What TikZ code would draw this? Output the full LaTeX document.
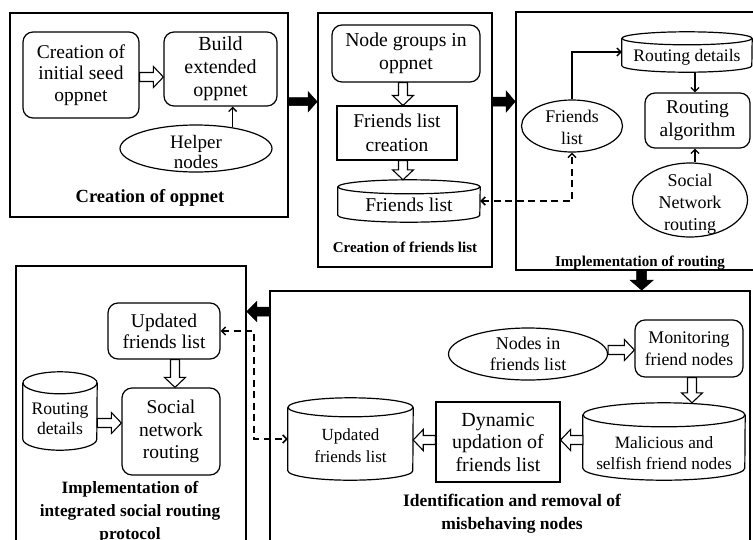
\documentclass[tikz,border=0pt]{standalone}
\usepackage{fontspec}
\setmainfont{Liberation Serif}
\usetikzlibrary{shapes.geometric,calc,arrows.meta}

% font size / baseline skip shortcut
\newcommand\fsz[2]{\fontsize{#1}{#2}\selectfont}

% outlined block arrow: #1 style, #2 tail, #3 tip,
% #4 shaft half width, #5 head half width, #6 head length
\newcommand\blockarrow[6]{%
  \coordinate (ba-s) at #2;
  \coordinate (ba-e) at #3;
  \coordinate (ba-h) at ($(ba-e)!#6!(ba-s)$);
  \draw[#1] ($(ba-s)!#4!90:(ba-e)$) -- ($(ba-h)!#4!-90:(ba-s)$)
    -- ($(ba-h)!#5!-90:(ba-s)$) -- (ba-e) -- ($(ba-h)!#5!90:(ba-s)$)
    -- ($(ba-h)!#4!90:(ba-s)$) -- ($(ba-s)!#4!-90:(ba-e)$) -- cycle;
}

% data store drawn as a cylinder: #1 name, #2 centre, #3 width, #4 height, #5 cap half height
\newcommand\dbstore[5]{%
  \node[cylbody, minimum width=#3, minimum height=#4] (#1) at #2 {};
  \draw[cyl] ([yshift=-#5]#1.north west) -- ([yshift=#5]#1.south west)
    arc[start angle=180, end angle=360, x radius=#3/2, y radius=#5]
    -- ([yshift=-#5]#1.north east);
  \draw[cyl] ([yshift=-#5]#1.north) ellipse[x radius=#3/2, y radius=#5];
}

\begin{document}
\begin{tikzpicture}[x=1pt, y=-1pt,
  pnl/.style={draw, line width=1.6pt, inner sep=0pt},
  rbx/.style={draw, rounded corners=10pt, line width=1.2pt, align=center, inner sep=0pt},
  sqbx/.style={draw, line width=1.1pt, align=center, inner sep=0pt},
  ovl/.style={ellipse, draw, line width=1.2pt, inner sep=0pt},
  cylbody/.style={inner sep=0pt},
  cyl/.style={line width=1.2pt},
  lbl/.style={align=center, inner sep=0pt},
  flow/.style={line width=1.3pt, -{Straight Barb[length=4pt,width=8pt]}},
  link/.style={line width=2.2pt, dash pattern=on 7pt off 4.5pt,
    {Straight Barb[length=4pt,width=8pt,line width=1.5pt]}-{Straight Barb[length=4pt,width=8pt,line width=1.5pt]}},
  hollow/.style={draw=black, fill=white, line width=1.1pt, line join=miter},
  heavy/.style={draw=black, fill=black, line width=0.5pt, line join=miter}]

\useasboundingbox (0,0) rectangle (753,539);
\fill[white] (0,0) rectangle (753,539);

% ---------- stage panels ----------
\node[pnl, minimum width=278pt, minimum height=204pt] (P1) at (149,115) {};
\node[pnl, minimum width=174pt, minimum height=254pt] (P2) at (405,140) {};
\node[pnl, minimum width=244pt, minimum height=258pt] (P3) at (638,141) {};
\node[pnl, minimum width=230pt, minimum height=294pt] (P4) at (131,413) {};
\node[pnl, minimum width=480pt, minimum height=269pt] (P5) at (510,425.5) {};

% ---------- creation of oppnet ----------
\node[rbx, minimum width=116pt, minimum height=86pt, font=\fsz{19.5}{21.5}] (seed) at (81,75) {Creation of\\initial seed\\oppnet};
\node[rbx, minimum width=113pt, minimum height=74pt, font=\fsz{20}{23}] (build) at (220.5,69) {Build\\extended\\oppnet};
\node[ovl, minimum width=152pt, minimum height=47pt] (helper) at (196,148.5) {};
\node[lbl, font=\fsz{19}{20.5}] (helper-t) at (196,152) {Helper\\nodes};
\node[lbl, font=\fsz{18.5}{22}\bfseries] (t1) at (150,198) {Creation of oppnet};
\blockarrow{hollow}{(seed.east |- 0,77)}{(build.west |- 0,77)}{4.5pt}{10.5pt}{10pt}
\draw[flow] (helper.30) -- (helper.30 |- build.south);

% ---------- creation of friends list ----------
\node[rbx, minimum width=148pt, minimum height=57pt, font=\fsz{19.7}{23}] (ng) at (406,53.5) {Node groups in\\oppnet};
\node[sqbx, minimum width=120pt, minimum height=54pt, font=\fsz{19.5}{24}] (flc) at (397,133) {Friends list\\creation};
\dbstore{fl}{(409,201)}{142pt}{42pt}{7pt}
\node[lbl, font=\fsz{19.5}{22}] (fl-t) at (409,205) {Friends list};
\node[lbl, font=\fsz{15}{18}\bfseries] (t2) at (405,247) {Creation of friends list};
\blockarrow{hollow}{(403,0 |- ng.south)}{(403,0 |- flc.north)}{4.5pt}{10.5pt}{10pt}
\blockarrow{hollow}{(403,0 |- flc.south)}{(403,0 |- fl.north)}{4.5pt}{10.5pt}{10pt}

% ---------- implementation of routing ----------
\dbstore{rd}{(687,52)}{130pt}{40pt}{6.5pt}
\node[lbl, font=\fsz{17.6}{20}] (rd-t) at (687,57) {Routing details};
\node[rbx, minimum width=105pt, minimum height=55pt, font=\fsz{19.5}{23}] (ra) at (697.5,120.5) {Routing\\algorithm};
\node[ovl, minimum width=101pt, minimum height=52pt] (fle) at (572,126) {};
\node[lbl, font=\fsz{17.8}{22}] (fle-t) at (572,127) {Friends\\list};
\node[ovl, minimum width=115pt, minimum height=74pt] (sn) at (690,200) {};
\node[lbl, font=\fsz{18}{22}] (sn-t) at (690,204) {Social\\Network\\routing};
\node[lbl, font=\fsz{15}{18}\bfseries] (t3) at (640,263) {Implementation of routing};
\draw[flow] (fle.north) |- (rd.west);
\draw[flow] (695,0 |- rd.south) -- (695,0 |- ra.north);
\draw[flow] (695,0 |- sn.north) -- (695,0 |- ra.south);
\draw[link] (fl.east) -- (fle.south |- fl.east) -- (fle.south);

% ---------- identification and removal of misbehaving nodes ----------
\node[ovl, minimum width=159pt, minimum height=52pt] (nfl) at (528,354) {};
\node[lbl, font=\fsz{18}{21}] (nfl-t) at (528,354) {Nodes in\\friends list};
\node[rbx, minimum width=108pt, minimum height=57pt, font=\fsz{17.8}{22}] (mfn) at (689,348.5) {Monitoring\\friend nodes};
\dbstore{mal}{(664,441.5)}{162pt}{77pt}{12pt}
\node[lbl, font=\fsz{17.3}{21}] (mal-t) at (664,453) {Malicious and\\selfish friend nodes};
\node[sqbx, minimum width=124pt, minimum height=80pt, font=\fsz{20}{22.5}] (dyn) at (498,442) {Dynamic\\updation of\\friends list};
\dbstore{ufc}{(350.5,439)}{125pt}{82pt}{9.5pt}
\node[lbl, font=\fsz{17}{22}] (ufc-t) at (350.5,446) {Updated\\friends list};
\node[lbl, font=\fsz{17.5}{23}\bfseries] (t5) at (512,513.5) {Identification and removal of\\misbehaving nodes};
\blockarrow{hollow}{(nfl.east |- 0,350)}{(mfn.west |- 0,350)}{4.5pt}{10.5pt}{10pt}
\blockarrow{hollow}{(692,0 |- mfn.south)}{(692,0 |- mal.north)}{4.5pt}{10.5pt}{10pt}
\blockarrow{hollow}{(mal.west |- 0,440)}{(dyn.east |- 0,440)}{4.5pt}{10.5pt}{10pt}
\blockarrow{hollow}{(dyn.west |- 0,440)}{(ufc.east |- 0,440)}{4.5pt}{10.5pt}{10pt}

% ---------- implementation of integrated social routing protocol ----------
\node[rbx, minimum width=112pt, minimum height=56pt, font=\fsz{19.5}{21}] (ufl) at (164,331) {Updated\\friends list};
\node[rbx, minimum width=98pt, minimum height=87pt, font=\fsz{19.5}{22.5}] (snr) at (171,431.5) {Social\\network\\routing};
\dbstore{rdc}{(60,411)}{74pt}{78pt}{11pt}
\node[lbl, font=\fsz{17.6}{20}] (rdc-t) at (60,419) {Routing\\details};
\node[lbl, font=\fsz{17.3}{23}\bfseries] (t4) at (130,512.5) {Implementation of\\integrated social routing\\protocol};
\blockarrow{hollow}{(175,0 |- ufl.south)}{(175,0 |- snr.north)}{4.5pt}{10.5pt}{10pt}
\blockarrow{hollow}{(rdc.east |- 0,423)}{(snr.west |- 0,423)}{4.5pt}{10.5pt}{10pt}
\coordinate (bend) at (254,0);
\draw[link] (ufl.east) -- (bend |- ufl.east) -- (bend |- ufc.west) -- (ufc.west);

% ---------- flow between stages ----------
\blockarrow{heavy}{(P1.east |- 0,101.7)}{(P2.west |- 0,101.7)}{4pt}{10pt}{9pt}
\blockarrow{heavy}{(P2.east |- 0,101.5)}{(P3.west |- 0,101.5)}{4.5pt}{10.5pt}{9pt}
\blockarrow{heavy}{(641.7,0 |- P3.south)}{(641.7,0 |- P5.north)}{5pt}{11.5pt}{10pt}
\blockarrow{heavy}{(P5.west |- 0,311.5)}{(P4.east |- 0,311.5)}{4.5pt}{10pt}{10pt}

\end{tikzpicture}
\end{document}
